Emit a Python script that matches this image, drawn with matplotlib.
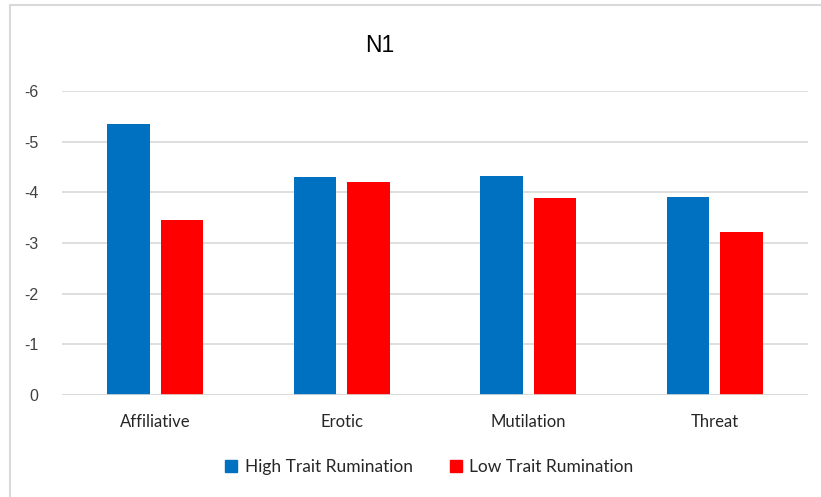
import matplotlib.pyplot as plt
import numpy as np
from matplotlib.lines import Line2D

categories = ['Affiliative', 'Erotic', 'Mutilation', 'Threat']
high_rumination = [-5.35, -4.30, -4.33, -3.91]
low_rumination = [-3.45, -4.20, -3.89, -3.22]
yticks = [0, -1, -2, -3, -4, -5, -6]

blue = '#0070c0'
red = '#ff0000'
grid_grey = '#d9d9d9'

fig = plt.figure(figsize=(8.21, 4.97), dpi=100)
ax = fig.add_axes([62 / 821, 1 - 395 / 497, 746 / 821, 304 / 497])

x = np.arange(len(categories))
offset = 0.1435
width = 0.23
ax.bar(x - offset, high_rumination, width, color=blue, label='High Trait Rumination', zorder=3)
ax.bar(x + offset, low_rumination, width, color=red, label='Low Trait Rumination', zorder=3)

ax.set_xlim(-0.5, len(categories) - 0.5)
ax.set_ylim(0, -6)
ax.set_yticks(yticks)
ax.set_yticklabels([str(t) for t in yticks], fontfamily='Liberation Sans', fontsize=11.5, color='#404040')
ax.set_xticks(x)
ax.set_xticklabels(categories, fontfamily='Lato', fontsize=12, color='#262626')
ax.tick_params(axis='both', length=0)
ax.tick_params(axis='y', pad=17)
ax.tick_params(axis='x', pad=14)
ax.yaxis.grid(True, color=grid_grey, linewidth=1.2, zorder=0)
for side in ['top', 'right', 'left', 'bottom']:
    ax.spines[side].set_visible(False)
ax.axhline(0, color=grid_grey, linewidth=1.2, zorder=4)

fig.text(380 / 821, 1 - 46 / 497, 'N1', ha='center', va='center',
         fontfamily='Liberation Sans', fontsize=16.5, color='#000000')

handles = [Line2D([], [], marker='s', linestyle='none', markersize=8.5, color=blue),
           Line2D([], [], marker='s', linestyle='none', markersize=8.5, color=red)]
fig.legend(handles, ['High Trait Rumination', 'Low Trait Rumination'],
           loc='center', bbox_to_anchor=(428 / 821, 1 - 467 / 497), ncol=2,
           frameon=False, prop={'family': 'Lato', 'size': 12.5},
           handletextpad=0.25, columnspacing=2.0, handlelength=1.0, labelcolor='#262626')

# chart area border (top and left edges)
fig.add_artist(Line2D([10 / 821, 1], [1 - 5 / 497, 1 - 5 / 497], color=grid_grey, linewidth=1.5))
fig.add_artist(Line2D([10 / 821, 10 / 821], [0, 1 - 5 / 497], color=grid_grey, linewidth=1.5))

fig.savefig('out.png', dpi=100)
